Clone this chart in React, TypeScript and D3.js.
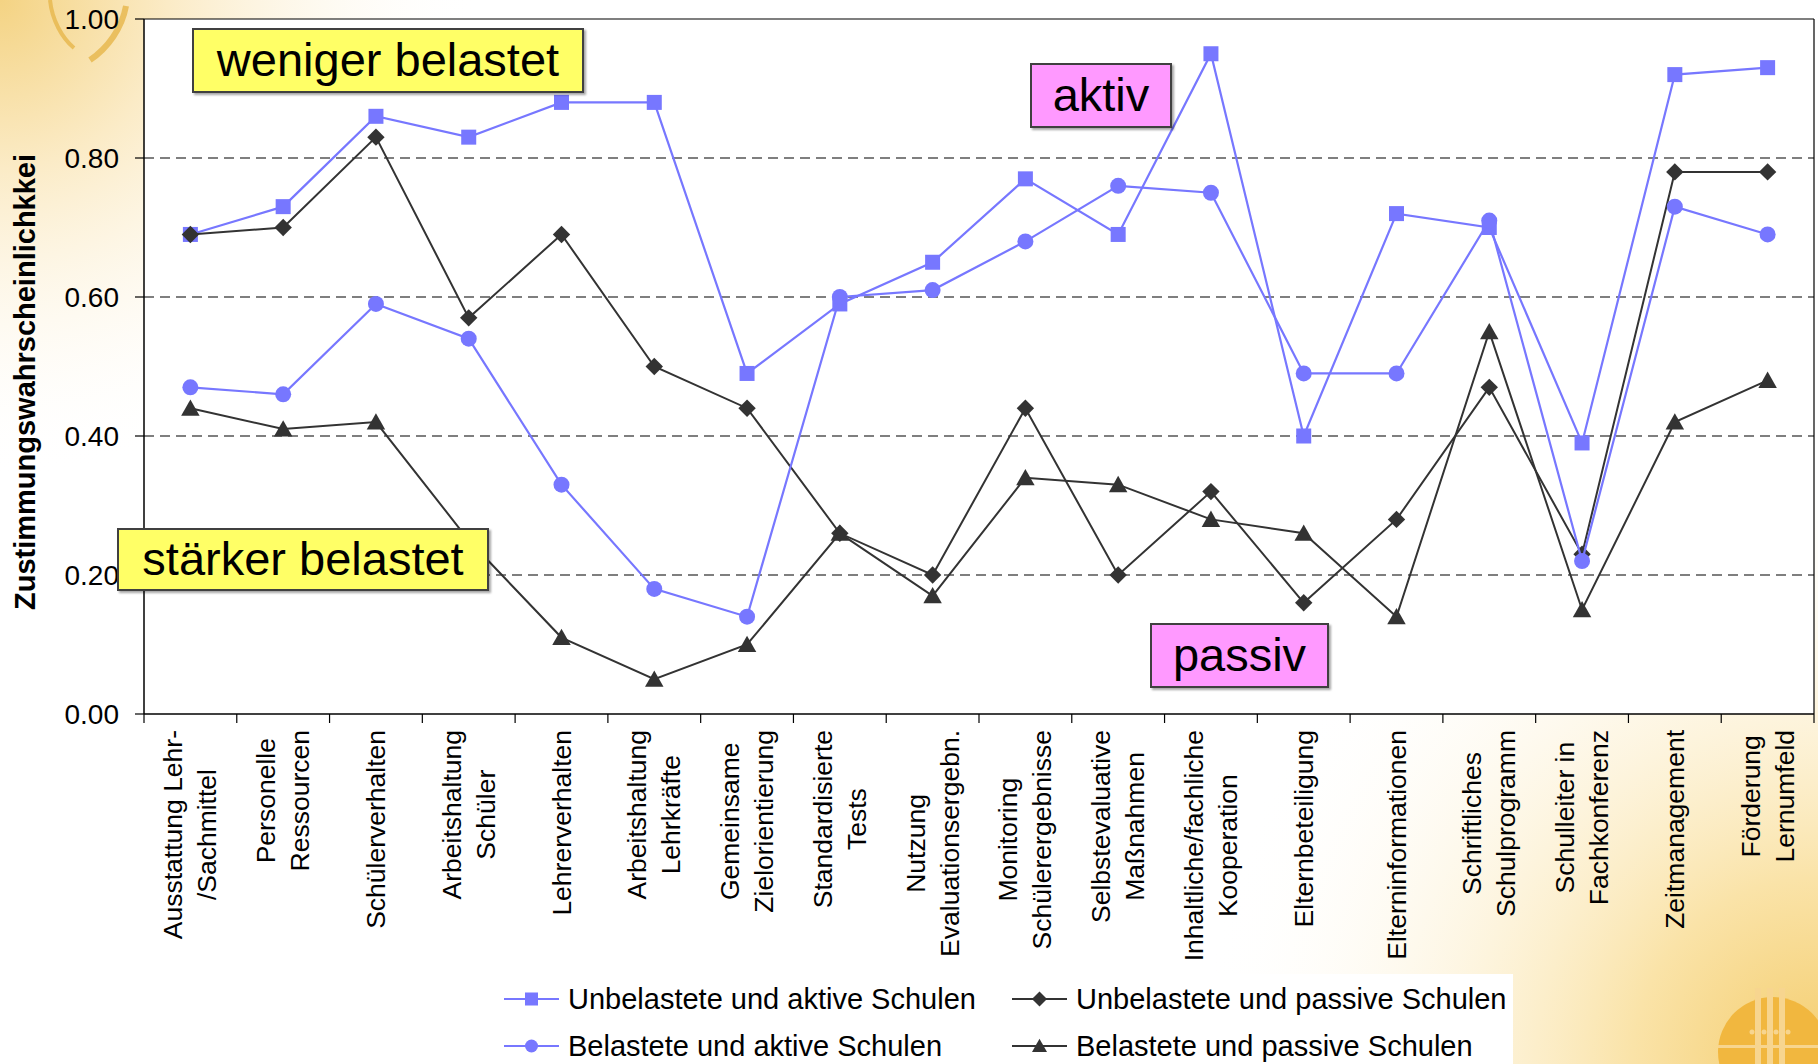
import React, { useEffect, useMemo } from "react";
import * as d3 from "d3";

const categories = [
  "Ausstattung Lehr-\n/Sachmittel",
  "Personelle\nRessourcen",
  "Schülerverhalten",
  "Arbeitshaltung\nSchüler",
  "Lehrerverhalten",
  "Arbeitshaltung\nLehrkräfte",
  "Gemeinsame\nZielorientierung",
  "Standardisierte\nTests",
  "Nutzung\nEvaluationsergebn.",
  "Monitoring\nSchülerergebnisse",
  "Selbstevaluative\nMaßnahmen",
  "Inhaltliche/fachliche\nKooperation",
  "Elternbeteiligung",
  "Elterninformationen",
  "Schriftliches\nSchulprogramm",
  "Schulleiter in\nFachkonferenz",
  "Zeitmanagement",
  "Förderung\nLernumfeld",
];

const unbelastetAktiv = [0.69, 0.73, 0.86, 0.83, 0.88, 0.88, 0.49, 0.59, 0.65, 0.77, 0.69, 0.95, 0.40, 0.72, 0.70, 0.39, 0.92, 0.93];
const unbelastetPassiv = [0.69, 0.70, 0.83, 0.57, 0.69, 0.50, 0.44, 0.26, 0.20, 0.44, 0.20, 0.32, 0.16, 0.28, 0.47, 0.23, 0.78, 0.78];
const belastetAktiv = [0.47, 0.46, 0.59, 0.54, 0.33, 0.18, 0.14, 0.60, 0.61, 0.68, 0.76, 0.75, 0.49, 0.49, 0.71, 0.22, 0.73, 0.69];
const belastetPassiv = [0.44, 0.41, 0.42, 0.25, 0.11, 0.05, 0.10, 0.26, 0.17, 0.34, 0.33, 0.28, 0.26, 0.14, 0.55, 0.15, 0.42, 0.48];

const yTicks = [0, 0.2, 0.4, 0.6, 0.8, 1.0];
const yTitle = "Zustimmungswahrscheinlichkkei";

const seriesNames = [
  "Unbelastete und aktive Schulen",
  "Unbelastete und passive Schulen",
  "Belastete und aktive Schulen",
  "Belastete und passive Schulen",
];

const annotations = [
  { text: "weniger belastet", fill: "#FFFF66" },
  { text: "aktiv", fill: "#FF99FF" },
  { text: "stärker belastet", fill: "#FFFF66" },
  { text: "passiv", fill: "#FF99FF" },
];

const FONT = "'Liberation Sans', Arial, Helvetica, sans-serif";
const BLUE = "#7777FF";
const DARK = "#333333";

let _ctx: CanvasRenderingContext2D | null = null;
function measure(text: string, font: string): number {
  if (!_ctx) {
    const c = document.createElement("canvas");
    _ctx = c.getContext("2d");
  }
  if (!_ctx) return text.length * 13;
  _ctx.font = font;
  return _ctx.measureText(text).width;
}

function Marker({ kind, x, y, s }: { kind: string; x: number; y: number; s: number }) {
  if (kind === "square") {
    return <rect x={x - s / 2} y={y - s / 2} width={s} height={s} fill={BLUE} />;
  }
  if (kind === "circle") {
    return <circle cx={x} cy={y} r={s / 2} fill={BLUE} />;
  }
  if (kind === "diamond") {
    const h = s * 0.58;
    return <path d={`M${x},${y - h}L${x + h},${y}L${x},${y + h}L${x - h},${y}Z`} fill={DARK} />;
  }
  const h = s * 0.55;
  return <path d={`M${x},${y - h}L${x + h * 1.05},${y + h * 0.85}L${x - h * 1.05},${y + h * 0.85}Z`} fill={DARK} />;
}

export default function App() {
  useEffect(() => {
    document.body.style.margin = "0";
    document.body.style.overflow = "hidden";
  }, []);

  const W = 1818;
  const H = 1064;
  const left = 144;
  const right = 1814;
  const top = 19;
  const bottom = 714;

  const x = d3.scaleBand<string>().domain(categories).range([left, right]).padding(0);
  const y = d3.scaleLinear().domain([0, 1]).range([bottom, top]);
  const cx = (c: string) => (x(c) as number) + x.bandwidth() / 2;

  const series = [
    { name: seriesNames[0], values: unbelastetAktiv, color: BLUE, marker: "square", size: 15, width: 2.2 },
    { name: seriesNames[1], values: unbelastetPassiv, color: DARK, marker: "diamond", size: 15, width: 2 },
    { name: seriesNames[2], values: belastetAktiv, color: BLUE, marker: "circle", size: 16, width: 2.2 },
    { name: seriesNames[3], values: belastetPassiv, color: DARK, marker: "triangle", size: 16, width: 2 },
  ];

  const line = d3
    .line<number>()
    .x((_, i) => cx(categories[i]))
    .y((d) => y(d));

  const labelFont = `26.5px ${FONT}`;
  const labelInfo = useMemo(
    () =>
      categories.map((c) => {
        const lines = c.split("\n");
        const maxW = Math.max(...lines.map((l) => measure(l, labelFont)));
        return { lines, maxW };
      }),
    []
  );

  const boxes = [
    { ...annotations[0], x0: 193, y0: 29, x1: 583, y1: 92 },
    { ...annotations[1], x0: 1031, y0: 64, x1: 1171, y1: 127 },
    { ...annotations[2], x0: 118, y0: 529, x1: 488, y1: 590 },
    { ...annotations[3], x0: 1151, y0: 624, x1: 1328, y1: 687 },
  ];

  const legendItems = [
    { s: series[0], lx: 504, ly: 999 },
    { s: series[1], lx: 1012, ly: 999 },
    { s: series[2], lx: 504, ly: 1046 },
    { s: series[3], lx: 1012, ly: 1046 },
  ];

  return (
    <svg
      width={W}
      height={H}
      style={{ position: "absolute", left: 0, top: 0, display: "block" }}
      fontFamily={FONT}
    >
      <defs>
        <radialGradient id="tl" cx="0" cy="0" r="480" gradientUnits="userSpaceOnUse">
          <stop offset="0" stopColor="#F4D383" />
          <stop offset="0.35" stopColor="#FBEBC6" />
          <stop offset="1" stopColor="#FFFFFF" stopOpacity="0" />
        </radialGradient>
        <radialGradient id="br" cx={W} cy={H} r="620" gradientUnits="userSpaceOnUse">
          <stop offset="0" stopColor="#F4CD6E" />
          <stop offset="0.3" stopColor="#FAE3A8" />
          <stop offset="1" stopColor="#FFFFFF" stopOpacity="0" />
        </radialGradient>
        <filter id="sh" x="-10%" y="-10%" width="130%" height="140%">
          <feDropShadow dx="2" dy="2" stdDeviation="1" floodColor="#000" floodOpacity="0.35" />
        </filter>
      </defs>

      {/* background */}
      <rect x={0} y={0} width={W} height={H} fill="#FFFFFF" />
      <rect x={0} y={0} width={W} height={H} fill="url(#tl)" />
      <rect x={0} y={0} width={W} height={H} fill="url(#br)" />

      {/* top-left decorative arcs */}
      <path d="M50,0 C52,20 62,38 74,48" fill="none" stroke="#E8B850" strokeWidth={4} opacity={0.85} />
      <path d="M126,6 C122,28 108,48 90,60" fill="none" stroke="#E8B850" strokeWidth={6} opacity={0.85} />

      {/* bottom-right logo */}
      <g>
        <circle cx={1773} cy={1052} r={55} fill="#F1B73F" />
        {[1758, 1770, 1782].map((bx) => (
          <rect key={bx} x={bx - 3} y={988} width={6} height={76} fill="#F7D58F" />
        ))}
        <rect x={1718} y={1045} width={110} height={3} fill="#F7D58F" />
        {[1752, 1764, 1776, 1788].map((dx) => (
          <circle key={dx} cx={dx} cy={1032} r={2.5} fill="#F7D58F" />
        ))}
      </g>

      {/* plot area */}
      <rect x={left} y={top} width={right - left} height={bottom - top} fill="#FFFFFF" />

      {/* grid lines */}
      {yTicks
        .filter((t) => t > 0 && t < 1)
        .map((t) => (
          <line
            key={t}
            x1={left}
            x2={right}
            y1={y(t)}
            y2={y(t)}
            stroke="#000"
            strokeWidth={1.2}
            strokeDasharray="10 6"
          />
        ))}

      {/* frame */}
      <line x1={left} x2={right} y1={top} y2={top} stroke="#000" strokeWidth={1.2} />
      <line x1={right} x2={right} y1={top} y2={bottom} stroke="#000" strokeWidth={1.2} />
      <line x1={left} x2={left} y1={top} y2={bottom} stroke="#000" strokeWidth={1.5} />
      <line x1={left} x2={right} y1={bottom} y2={bottom} stroke="#000" strokeWidth={1.5} />

      {/* y ticks */}
      {yTicks.map((t) => (
        <g key={t}>
          <line x1={left - 9} x2={left} y1={y(t)} y2={y(t)} stroke="#000" strokeWidth={1.2} />
          <text x={119} y={y(t) + 10} textAnchor="end" fontSize={28} fill="#000">
            {d3.format(".2f")(t)}
          </text>
        </g>
      ))}

      {/* x ticks */}
      {categories.map((c) => (
        <line
          key={c}
          x1={x(c) as number}
          x2={x(c) as number}
          y1={bottom}
          y2={bottom + 9}
          stroke="#000"
          strokeWidth={1.2}
        />
      ))}
      <line x1={right} x2={right} y1={bottom} y2={bottom + 9} stroke="#000" strokeWidth={1.2} />

      {/* x labels */}
      {categories.map((c, i) => {
        const info = labelInfo[i];
        const n = info.lines.length;
        const spacing = 34;
        const centerAlong = 730 + info.maxW / 2;
        return (
          <g key={c}>
            {info.lines.map((l, j) => {
              const lx = cx(c) + (j - (n - 1) / 2) * spacing + 9;
              return (
                <text
                  key={j}
                  transform={`translate(${lx},${centerAlong}) rotate(-90)`}
                  textAnchor="middle"
                  fontSize={26.5}
                  fill="#000"
                >
                  {l}
                </text>
              );
            })}
          </g>
        );
      })}

      {/* y title */}
      <text
        transform={`translate(35,382) rotate(-90)`}
        textAnchor="middle"
        fontSize={29}
        fontWeight="bold"
        fill="#000"
      >
        {yTitle}
      </text>

      {/* series */}
      {series.map((s) => (
        <g key={s.name}>
          <path d={line(s.values) || ""} fill="none" stroke={s.color} strokeWidth={s.width} />
          {s.values.map((v, i) => (
            <Marker key={i} kind={s.marker} x={cx(categories[i])} y={y(v)} s={s.size} />
          ))}
        </g>
      ))}

      {/* annotation boxes */}
      {boxes.map((b) => (
        <g key={b.text}>
          <rect
            x={b.x0}
            y={b.y0}
            width={b.x1 - b.x0}
            height={b.y1 - b.y0}
            fill={b.fill}
            stroke="#404040"
            strokeWidth={2}
            filter="url(#sh)"
          />
          <text
            x={(b.x0 + b.x1) / 2}
            y={(b.y0 + b.y1) / 2 + 15}
            textAnchor="middle"
            fontSize={47}
            fill="#000"
          >
            {b.text}
          </text>
        </g>
      ))}

      {/* legend */}
      <rect x={496} y={974} width={1017} height={90} fill="#FFFFFF" />
      {legendItems.map(({ s, lx, ly }) => (
        <g key={s.name}>
          <line x1={lx} x2={lx + 55} y1={ly} y2={ly} stroke={s.color} strokeWidth={2.2} />
          <Marker kind={s.marker} x={lx + 27.5} y={ly} s={13} />
          <text x={lx + 64} y={ly + 10} fontSize={29} fill="#000">
            {s.name}
          </text>
        </g>
      ))}
    </svg>
  );
}
